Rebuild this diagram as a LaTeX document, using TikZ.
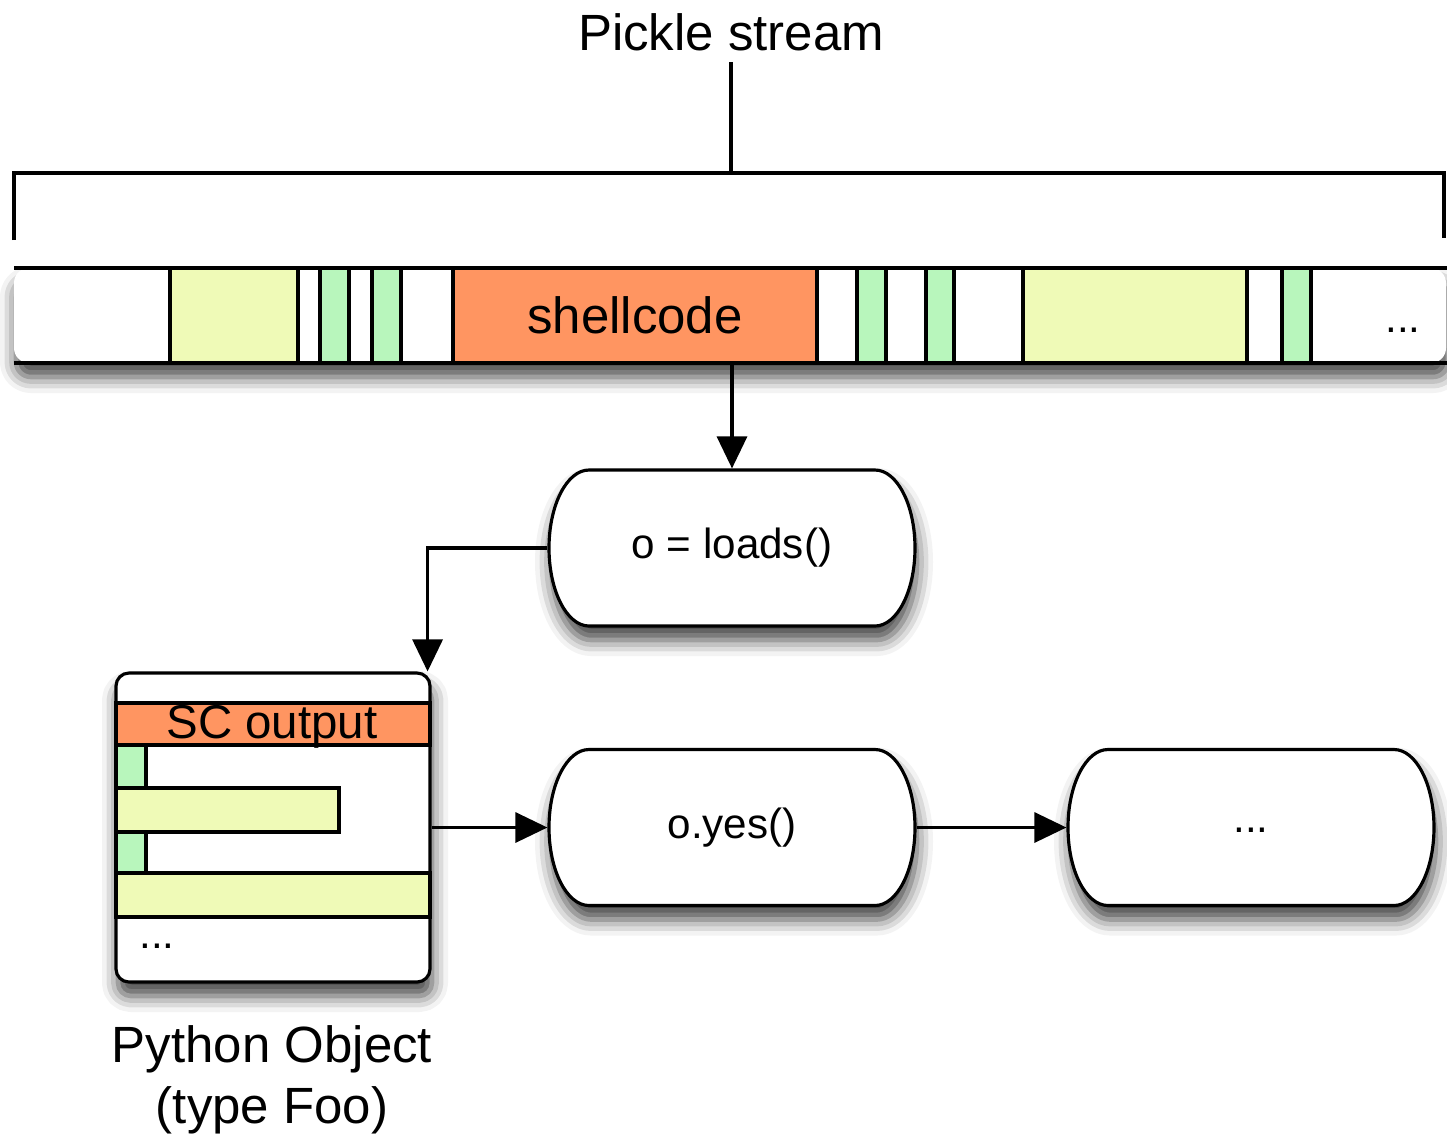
\documentclass[tikz,border=0pt]{standalone}
\usepackage{fontspec}
\setmainfont{Liberation Sans}
\usetikzlibrary{arrows.meta,shadows.blur}
\definecolor{scorange}{HTML}{FF9561}
\definecolor{opgreen}{HTML}{B8F6BC}
\definecolor{opyellow}{HTML}{EFFAB7}
\begin{document}
\begin{tikzpicture}[x=0.1mm,y=-0.1mm,line width=0.9pt,
  arr/.style={-{Triangle[length=3.2mm,width=3mm,fill=black]},line width=0.9pt,draw=black,opacity=1},
  dropshadow/.style={blur shadow={shadow xshift=0.2mm,shadow yshift=-1.4mm,shadow blur radius=1.6mm,shadow opacity=75}},
  pill/.style={minimum width=36.6mm,minimum height=15.6mm,inner sep=0pt,font=\fontsize{12}{14}\selectfont},
  bigtext/.style={font=\fontsize{14.5}{17.4}\selectfont}]
\useasboundingbox (0,0) rectangle (1447,1138);

% Pickle stream and its bracket
\node[bigtext,inner sep=1mm] (title) at (731,32) {Pickle stream};
\coordinate (brace) at (731,173);
\draw (14,240) |- (1444,173) -- (1444,238);
\draw (title.south) -- (brace);

% the stream of opcodes
\fill[white,dropshadow,rounded corners=1.5mm] (14,268) rectangle (1446,363);
\draw (14,268) -- (1447,268);
\draw (14,363) -- (1447,363);
\foreach \xa/\xb/\col in {170/298/opyellow,320/349/opgreen,372/401/opgreen,857/886/opgreen,926/954/opgreen,1023/1247/opyellow,1282/1311/opgreen}
  \draw[fill=\col] (\xa,268) rectangle (\xb,363);
\node[bigtext,draw,fill=scorange,minimum width=36.4mm,minimum height=9.5mm,inner sep=0pt] (sc) at (635,315.5) {shellcode};
\node[font=\fontsize{12}{14}\selectfont] (sdots) at (1403,330) {...};

% calls
\foreach \name/\cx/\cy/\txt in {loads/732/548/{o = loads()},yes/732/827.5/{o.yes()},rest/1251/827.5/{\raisebox{-1mm}{...}}} {
  \draw[fill=white,dropshadow] (\cx,\cy) ++(-14.3mm,7.8mm) -- ++(28.6mm,0mm)
    arc[start angle=90,end angle=-90,x radius=4mm,y radius=7.8mm] -- ++(-28.6mm,0mm)
    arc[start angle=270,end angle=90,x radius=4mm,y radius=7.8mm] -- cycle;
  \node[pill] (\name) at (\cx,\cy) {\txt};
}

% Python object
\node[draw,fill=white,dropshadow,rounded corners=1.3mm,minimum width=31.4mm,minimum height=30.9mm,inner sep=0pt] (obj) at (273,827.5) {};
\draw[fill=scorange] (116,703) rectangle (430,745);
\node[font=\fontsize{13.5}{16}\selectfont,inner sep=0pt] (scout) at (272,727) {SC output};
\foreach \ya/\yb/\xb/\col in {745/788/146/opgreen,788/832/339/opyellow,832/873/146/opgreen,873/917/430/opyellow}
  \draw[fill=\col] (116,\ya) rectangle (\xb,\yb);
\node[font=\fontsize{12}{14}\selectfont] (odots) at (157,946) {...};
\node[bigtext,align=center] (caption) at (272,1080) {Python Object\\(type Foo)};

\draw[arr] (loads.north |- sc.south) -- (loads.north);
\draw[arr] (loads.west) -| ([xshift=-0.4mm]obj.north east);
\draw[arr] (obj.east) -- (yes.west);
\draw[arr] (yes.east) -- (rest.west);
\end{tikzpicture}
\end{document}
